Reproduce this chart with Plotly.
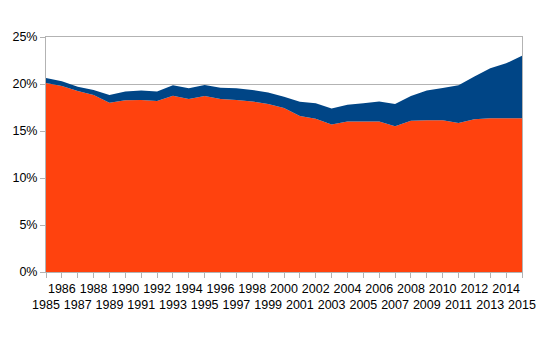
import plotly.graph_objects as go

years = list(range(1985, 2016))
total = [20.64, 20.3, 19.7, 19.36, 18.83, 19.2, 19.3, 19.2, 19.86, 19.54, 19.9, 19.6, 19.55, 19.36, 19.1,
         18.65, 18.1, 17.94, 17.4, 17.8, 17.94, 18.15, 17.87, 18.72, 19.3, 19.57, 19.86, 20.8, 21.67, 22.2, 23.0]
lower = [20.1, 19.8, 19.26, 18.83, 18.0, 18.26, 18.3, 18.2, 18.76, 18.4, 18.72, 18.4, 18.3, 18.15, 17.87,
         17.45, 16.6, 16.3, 15.7, 16.0, 16.0, 16.0, 15.5, 16.1, 16.15, 16.15, 15.85, 16.24, 16.35, 16.35, 16.35]
upper = [round(t - l, 3) for t, l in zip(total, lower)]

y_ticks = [0, 5, 10, 15, 20, 25]
y_labels = [f"{v}%" for v in y_ticks]
tick_text = [str(y) if y % 2 == 0 else " <br>" + str(y) for y in years]

fig = go.Figure()
fig.add_trace(go.Scatter(x=years, y=lower, stackgroup="one", mode="none",
                         fillcolor="#FF420E", name="Series 1"))
fig.add_trace(go.Scatter(x=years, y=upper, stackgroup="one", mode="none",
                         fillcolor="#004586", name="Series 2"))

fig.update_layout(
    width=554, height=351,
    margin=dict(l=43, r=32, t=37, b=79),
    paper_bgcolor="white", plot_bgcolor="white",
    showlegend=False,
    font=dict(family="Liberation Sans, Arial, sans-serif", size=12.5, color="black"),
)
fig.update_xaxes(
    range=[1985, 2015], tickmode="array", tickvals=years, ticktext=tick_text,
    showgrid=False, showline=True, linecolor="#b3b3b3", linewidth=1, mirror=True,
    ticks="outside", ticklen=5, tickcolor="#b3b3b3", tickangle=0, zeroline=False,
)
fig.update_yaxes(
    range=[0, 25], tickmode="array", tickvals=y_ticks, ticktext=y_labels,
    showgrid=True, gridcolor="#b3b3b3", gridwidth=1,
    showline=True, linecolor="#b3b3b3", linewidth=1, mirror=True,
    ticks="outside", ticklen=5, tickcolor="#b3b3b3", zeroline=False,
)
fig.write_html("out.html")
